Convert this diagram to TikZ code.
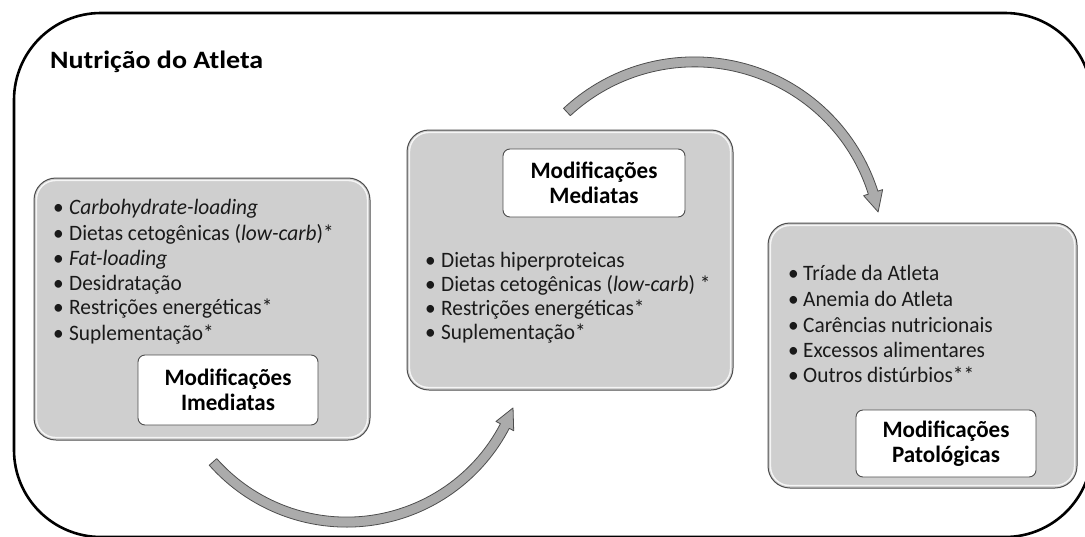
\documentclass[tikz,border=0pt]{standalone}
\usepackage{fontspec}
\setmainfont{Carlito}[FakeStretch=0.97]
\newfontfamily\titlefont{Carlito}[FakeStretch=1.12]
\newfontfamily\labelfont{Carlito}[FakeStretch=0.98]
\usetikzlibrary{calc}
\definecolor{boxgray}{HTML}{CFCFCF}
\definecolor{edgegray}{HTML}{4D4D4D}
\definecolor{arrowfill}{HTML}{ABABAB}
\definecolor{txt}{HTML}{1A1A1A}
\newcommand{\bul}[1]{\makebox[#1][l]{\hspace*{-1pt}•}}
\begin{document}
\begin{tikzpicture}[x=1pt,y=-1pt,
  frame/.style={draw=black,line width=2.6pt,rounded corners=87pt},
  gbox/.style={draw=edgegray,line width=1pt,fill=boxgray,rounded corners=22pt,inner sep=0pt,outer sep=0pt},
  bevel/.style={draw=white,line width=1.4pt,rounded corners=19pt,opacity=0.8},
  lbox/.style={draw=edgegray,line width=0.9pt,fill=white,rounded corners=7pt,inner sep=0pt,align=center,text=black,font=\labelfont\fontsize{23.5}{24.5}\selectfont\bfseries},
  item/.style={anchor=base west,inner sep=0pt,text=txt,font=\fontsize{22}{25}\selectfont},
  title/.style={anchor=base west,inner sep=0pt,text=black,font=\titlefont\fontsize{25}{30}\selectfont\bfseries},
  blockarrow/.style={draw=edgegray,line width=0.8pt,fill=arrowfill,line join=round}]
\useasboundingbox (0,0) rectangle (1085,536);
\clip (0,0) rectangle (1085,536);
% outer frame
\draw[frame] (14,13) rectangle (1092,537);
\node[title] (t) at (50,68) {Nutrição do Atleta};
% boxes
\node[gbox,minimum width=336pt,minimum height=262pt] (b1) at (202,309) {};
\node[gbox,minimum width=326pt,minimum height=260pt] (b2) at (570,260) {};
\node[gbox,minimum width=309pt,minimum height=265pt] (b3) at (922.5,355.5) {};
\foreach \b in {b1,b2,b3}{
  \draw[bevel] ([shift={(2.5,2.5)}]\b.north west) rectangle ([shift={(-2.5,-2.5)}]\b.south east);
}
% labels
\node[lbox,minimum width=180pt,minimum height=70pt] (l1) at (228,390) {Modificações\\Imediatas};
\node[lbox,minimum width=182pt,minimum height=68pt] (l2) at (594,183) {Modificações\\Mediatas};
\node[lbox,minimum width=180pt,minimum height=67pt] (l3) at (946,443.5) {Modificações\\Patológicas};
% items box 1
\node[item] (a1) at (54,214.5) {\bul{15pt}\textit{Carbohydrate-loading}};
\node[item] (a2) at (54,240) {\bul{15pt}Dietas cetogênicas (\textit{low-carb})*};
\node[item] (a3) at (54,265) {\bul{15pt}\textit{Fat-loading}};
\node[item] (a4) at (54,290) {\bul{15pt}Desidratação};
\node[item] (a5) at (54,314.5) {\bul{15pt}Restrições energéticas*};
\node[item] (a6) at (54,340) {\bul{15pt}Suplementação*};
% items box 2
\node[item] (m1) at (426,267.5) {\bul{15pt}Dietas hiperproteicas};
\node[item] (m2) at (426,291) {\bul{15pt}Dietas cetogênicas (\textit{low-carb}) *};
\node[item] (m3) at (426,315.5) {\bul{15pt}Restrições energéticas*};
\node[item] (m4) at (426,339.5) {\bul{15pt}Suplementação*};
% items box 3
\node[item] (p1) at (789,280.5) {\bul{14pt}Tríade da Atleta};
\node[item] (p2) at (789,306.5) {\bul{14pt}Anemia do Atleta};
\node[item] (p3) at (789,332.5) {\bul{14pt}Carências nutricionais};
\node[item] (p4) at (789,357.5) {\bul{14pt}Excessos alimentares};
\node[item] (p5) at (789,382.5) {\bul{14pt}Outros distúrbios**};
% curved block arrows
\coordinate (O1) at (346.6,343.7);
\coordinate (O2) at (694.5,249.3);
\path[blockarrow] ($(O1)+(138.5:183.4)$) arc[start angle=138.5,end angle=27.5,radius=183.4]
  -- ($(O1)+(27.5:188.4)$) -- ($(O1)+(21.1:178.4)$) -- ($(O1)+(27.5:168.4)$)
  -- ($(O1)+(27.5:173.4)$) arc[start angle=27.5,end angle=138.5,radius=173.4] -- cycle;
\path[blockarrow] ($(O2)+(-132.9:192.4)$) arc[start angle=-132.9,end angle=-17.6,radius=192.4]
  -- ($(O2)+(-17.6:197.4)$) -- ($(O2)+(-11.5:187.4)$) -- ($(O2)+(-17.6:177.4)$)
  -- ($(O2)+(-17.6:182.4)$) arc[start angle=-17.6,end angle=-132.9,radius=182.4] -- cycle;
\end{tikzpicture}
\end{document}
